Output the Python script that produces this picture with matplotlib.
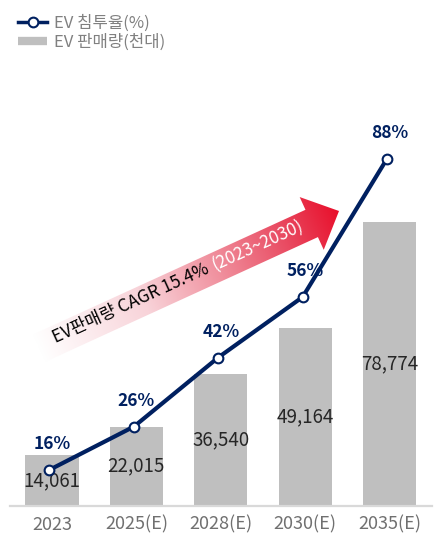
import numpy as np
import matplotlib
matplotlib.use("Agg")
import matplotlib.pyplot as plt
from matplotlib.lines import Line2D
from matplotlib.patches import Polygon
from matplotlib.colors import LinearSegmentedColormap

plt.rcParams['font.family'] = ['Noto Sans CJK KR', 'DejaVu Sans']

# 데이터
years = ['2023', '2025(E)', '2028(E)', '2030(E)', '2035(E)']
sales = [14061, 22015, 36540, 49164, 78774]      # EV 판매량(천대)
share = [16, 26, 42, 56, 88]                      # EV 침투율(%)

NAVY = '#002060'
GRAY_BAR = '#bfbfbf'

fig = plt.figure(figsize=(4.4, 5.44), dpi=100)
ax = fig.add_axes([0.0223, 0.0699, 0.9589, 0.7463])
ax2 = ax.twinx()

x = np.arange(len(years))

# 막대 (판매량)
bars = ax.bar(x, sales, width=0.63, color=GRAY_BAR, zorder=1)
for xi, v in zip(x, sales):
    ax.text(xi, v / 2, f"{v:,}", ha='center', va='center', fontsize=13.5, color='#262626')

ax.set_xlim(-0.5, len(years) - 0.5)
ax.set_ylim(0, 112465)
ax.set_xticks(x)
ax.set_xticklabels(years, fontsize=13, color='#707070')
ax.tick_params(axis='x', length=0, pad=7)
ax.set_yticks([])
for s in ['top', 'right', 'left']:
    ax.spines[s].set_visible(False)
ax.spines['bottom'].set_color('#d9d9d9')
ax.spines['bottom'].set_linewidth(1.6)

# 선 (침투율)
ax2.plot(x - 0.03, share, color=NAVY, lw=3, marker='o', ms=7,
         mfc='white', mec=NAVY, mew=1.5, zorder=3)
for xi, v in zip(x, share):
    ax2.annotate(f"{v}%", (xi, v), xytext=(0, 26), textcoords='offset pixels',
                 ha='center', va='center', fontsize=12.5, fontweight='bold', color=NAVY)
ax2.set_ylim(7.64, 101.6)
ax2.set_yticks([])
for s in ['top', 'right', 'left', 'bottom']:
    ax2.spines[s].set_visible(False)

# 범례
handles = [
    Line2D([], [], color=NAVY, lw=2.5, marker='o', ms=7, mfc='white', mec=NAVY, mew=1.5),
    Line2D([], [], color=GRAY_BAR, lw=6, solid_capstyle='butt'),
]
fig.legend(handles, ['EV 침투율(%)', 'EV 판매량(천대)'], loc='upper left',
           bbox_to_anchor=(18 / 440, 1 - 15 / 544), frameon=False, fontsize=12,
           labelcolor='#808080', handlelength=1.75, handletextpad=0.4,
           labelspacing=0.08, borderpad=0, borderaxespad=0)

# 그라데이션 화살표 (픽셀 좌표 오버레이)
ov = fig.add_axes([0, 0, 1, 1], zorder=5)
ov.set_xlim(0, 440)
ov.set_ylim(544, 0)
ov.axis('off')
ov.patch.set_alpha(0)

ang = np.deg2rad(24.5)
u = np.array([np.cos(ang), -np.sin(ang)])
n = np.array([-np.sin(ang), -np.cos(ang)])
tip = np.array([339.0, 211.0])
start = np.array([38.0, 348.7])
head_len, head_w, shaft_w = 30.0, 29.0, 15.0
base = tip - head_len * u
pts = [start + shaft_w * n, base + shaft_w * n, base + head_w * n, tip,
       base - head_w * n, base - shaft_w * n, start - shaft_w * n]
arrow = Polygon(pts, closed=True, facecolor='none', edgecolor='none')
ov.add_patch(arrow)

cmap = LinearSegmentedColormap.from_list(
    'grad', [(0, '#ffffff'), (0.35, '#f8d3d9'), (0.6, '#f08e9c'),
             (0.82, '#e94a61'), (1, '#e8102c')])
xs = np.linspace(20, 350, 400)
ys = np.linspace(170, 380, 260)
X, Y = np.meshgrid(xs, ys)
L = np.dot(tip - start, u)
t = ((X - start[0]) * u[0] + (Y - start[1]) * u[1]) / L
img = ov.imshow(cmap(np.clip(t, 0, 1)), extent=(xs[0], xs[-1], ys[-1], ys[0]),
                origin='upper', aspect='auto', zorder=1)
img.set_clip_path(arrow)
ov.set_xlim(0, 440)
ov.set_ylim(544, 0)

txt_start = np.array([56.0, 343.0])
t1 = ov.text(txt_start[0], txt_start[1], 'EV판매량 CAGR 15.4%', fontsize=12.5,
             color='black', ha='left', va='baseline', zorder=2)
renderer = fig.canvas.get_renderer()
w1 = t1.get_window_extent(renderer).width
t1.set_rotation(24.5)
t1.set_rotation_mode('anchor')
p2 = txt_start + (w1 + 5) * u
ov.text(p2[0], p2[1], '(2023~2030)', fontsize=12.5, color='white', ha='left',
        va='baseline', rotation=24.5, rotation_mode='anchor', zorder=2)

fig.savefig('out.png', dpi=100)
